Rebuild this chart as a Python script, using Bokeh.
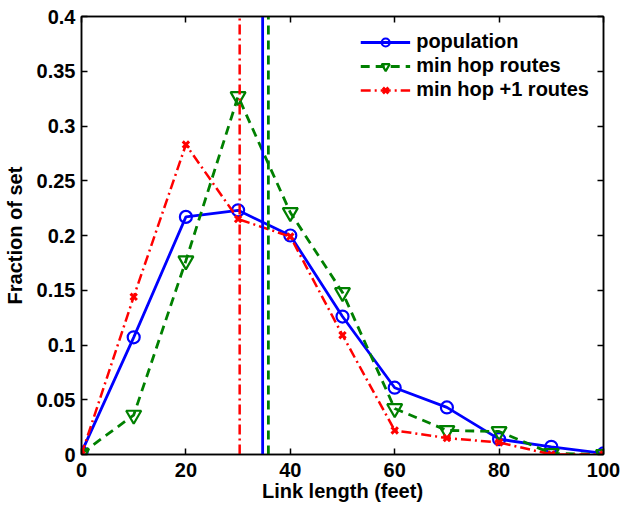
from bokeh.plotting import figure
from bokeh.models import LinearAxis, FixedTicker, Range1d, Legend, CustomLabelingPolicy
from bokeh.embed import file_html
from bokeh.resources import INLINE

# ---- data ----
link_length = [0, 10, 20, 30, 40, 50, 60, 70, 80, 90, 100]
population = [0.002, 0.107, 0.217, 0.223, 0.200, 0.126, 0.061, 0.043, 0.014, 0.007, 0.001]
min_hop = [0.001, 0.036, 0.177, 0.327, 0.221, 0.148, 0.042, 0.022, 0.021, 0.001, 0.0]
min_hop_plus1 = [0.0, 0.144, 0.283, 0.215, 0.199, 0.109, 0.022, 0.015, 0.011, 0.0, 0.0]
mean_population = 34.7
mean_min_hop = 35.8
mean_min_hop_plus1 = 30.3

x_ticks = [0, 20, 40, 60, 80, 100]
y_ticks = [0, 0.05, 0.1, 0.15, 0.2, 0.25, 0.3, 0.35, 0.4]
y_tick_labels = ["0", "0.05", "0.1", "0.15", "0.2", "0.25", "0.3", "0.35", "0.4"]

FONT = "Liberation Sans"
FS = "20px"

p = figure(width=621, height=506, output_backend="svg", toolbar_location=None,
           x_range=Range1d(0, 100), y_range=Range1d(0, 0.4),
           min_border_left=81, min_border_right=18, min_border_top=16, min_border_bottom=52)
p.background_fill_color = "white"
p.border_fill_color = "white"
p.grid.visible = False
p.outline_line_color = "black"
p.outline_line_width = 1.5

# main axes
for ax in (p.xaxis[0], p.yaxis[0]):
    ax.major_tick_in = 6
    ax.major_tick_out = 0
    ax.minor_tick_line_color = None
    ax.axis_line_width = 1.5
    ax.major_tick_line_width = 1.5
    ax.major_label_text_font = FONT
    ax.major_label_text_font_size = FS
    ax.major_label_text_font_style = "bold"
    ax.major_label_text_color = "black"
    ax.axis_label_text_font = FONT
    ax.axis_label_text_font_size = FS
    ax.axis_label_text_font_style = "bold"
    ax.axis_label_text_color = "black"

p.xaxis[0].ticker = FixedTicker(ticks=x_ticks)
p.yaxis[0].ticker = FixedTicker(ticks=y_ticks)
p.yaxis[0].major_label_overrides = {t: s for t, s in zip(y_ticks, y_tick_labels)}
p.xaxis[0].axis_label = "Link length (feet)"
p.yaxis[0].axis_label = "Fraction of set"
p.xaxis[0].major_label_standoff = 8
p.xaxis[0].axis_label_standoff = 0
p.yaxis[0].major_label_standoff = 6
p.yaxis[0].axis_label_standoff = 8

# mirrored axes (ticks only, labels filtered out)
no_labels = CustomLabelingPolicy(code="""
const ids = Array.from(indices)
for (const i of ids) indices.unset(i)
return indices
""")
top = LinearAxis(ticker=FixedTicker(ticks=x_ticks))
right = LinearAxis(ticker=FixedTicker(ticks=y_ticks))
for ax in (top, right):
    ax.major_tick_in = 6
    ax.major_tick_out = 0
    ax.minor_tick_line_color = None
    ax.axis_line_width = 1.5
    ax.major_tick_line_width = 1.5
    ax.major_label_policy = no_labels
    ax.major_label_text_font_size = "1px"
    ax.major_label_standoff = 0
p.add_layout(top, "above")
p.add_layout(right, "right")

BLUE, GREEN, RED = "#0000FF", "#008000", "#FF0000"
GREEN_DASH = "9 6"
RED_DASH = "10 4 2 4"

r1 = p.line(link_length, population, line_color=BLUE, line_width=2.8)
r1m = p.scatter(link_length, population, marker="circle", size=12, fill_color=None,
                line_color=BLUE, line_width=2.2)
r2 = p.line(link_length, min_hop, line_color=GREEN, line_width=2.8, line_dash=GREEN_DASH)
r2m = p.scatter(link_length, min_hop, marker="inverted_triangle", size=15, fill_color=None,
                line_color=GREEN, line_width=2.2)
r3 = p.line(link_length, min_hop_plus1, line_color=RED, line_width=2.5, line_dash=RED_DASH)
r3m = p.scatter(link_length, min_hop_plus1, marker="x", size=9, line_color=RED, line_width=3)

# mean lines
p.segment(x0=[mean_population], y0=[0], x1=[mean_population], y1=[0.4],
          line_color=BLUE, line_width=2.8)
p.segment(x0=[mean_min_hop], y0=[0], x1=[mean_min_hop], y1=[0.4],
          line_color=GREEN, line_width=2.8, line_dash=GREEN_DASH)
p.segment(x0=[mean_min_hop_plus1], y0=[0], x1=[mean_min_hop_plus1], y1=[0.4],
          line_color=RED, line_width=2.5, line_dash=RED_DASH)

legend = Legend(items=[("population", [r1, r1m]),
                       ("min hop routes", [r2, r2m]),
                       ("min hop +1 routes", [r3, r3m])],
                location="top_right")
legend.label_text_font = FONT
legend.label_text_font_size = FS
legend.label_text_font_style = "bold"
legend.label_text_color = "black"
legend.glyph_width = 50
legend.glyph_height = 20
legend.label_height = 20
legend.spacing = 1
legend.label_standoff = 6
legend.padding = 5
legend.margin = 14
legend.border_line_color = None
legend.background_fill_alpha = 0
p.add_layout(legend, "center")

open("out.html", "w").write(file_html(p, INLINE))
